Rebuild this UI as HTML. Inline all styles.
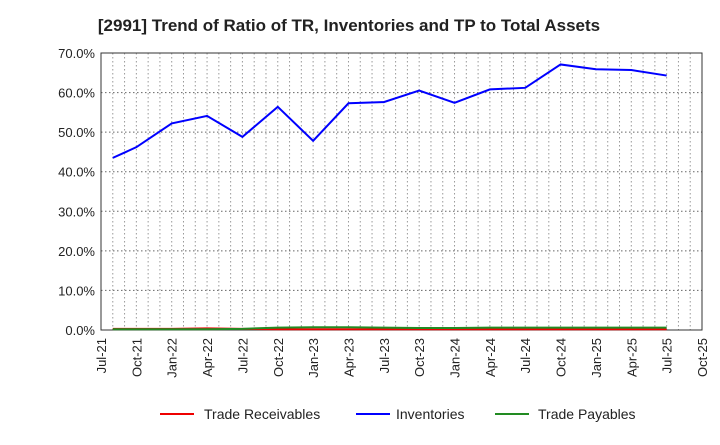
<!DOCTYPE html>
<html><head><meta charset="utf-8"><style>
body{margin:0;background:#fff;font-family:"Liberation Sans",Arial,sans-serif;}
</style></head><body>
<svg id="chart" width="720" height="440" xmlns="http://www.w3.org/2000/svg">
<text x="349" y="31" text-anchor="middle" font-size="17" font-weight="bold" fill="#222">[2991]  Trend of Ratio of TR, Inventories and TP to Total Assets</text>
<g id="grid"></g><g id="axes"></g><g id="series"></g>
<g>
<line x1="160" y1="414" x2="194" y2="414" stroke="#e00" stroke-width="2"/>
<text x="204" y="419" font-size="14" fill="#222">Trade Receivables</text>
<line x1="356" y1="414" x2="390" y2="414" stroke="#00f" stroke-width="2"/>
<text x="396" y="419" font-size="14" fill="#222">Inventories</text>
<line x1="495" y1="414" x2="529" y2="414" stroke="#228B22" stroke-width="2"/>
<text x="538" y="419" font-size="14" fill="#222">Trade Payables</text>
</g>
</svg>
<script>
const xLabels=["Jul-21","Oct-21","Jan-22","Apr-22","Jul-22","Oct-22","Jan-23","Apr-23","Jul-23","Oct-23","Jan-24","Apr-24","Jul-24","Oct-24","Jan-25","Apr-25","Jul-25","Oct-25"];
const yTicks=[0,10,20,30,40,50,60,70];
const months=[1,3,6,9,12,15,18,21,24,27,30,33,36,39,42,45,48];
const inventories=[43.5,46.2,52.2,54.1,48.8,56.4,47.8,57.3,57.6,60.5,57.4,60.8,61.2,67.1,65.9,65.7,64.3];
const receivables=[0.3,0.3,0.3,0.4,0.3,0.2,0.2,0.2,0.2,0.2,0.2,0.2,0.2,0.2,0.2,0.2,0.2];
const payables=[0.2,0.2,0.2,0.2,0.3,0.6,0.7,0.7,0.6,0.5,0.5,0.6,0.6,0.6,0.6,0.6,0.6];
const L=101,R=702,T=53,B=330;
const xs=m=>L+(R-L)*m/51;
const ys=v=>B-(B-T)*v/70;
const ns="http://www.w3.org/2000/svg";
function mk(tag,attrs,parent){const e=document.createElementNS(ns,tag);for(const k in attrs)e.setAttribute(k,attrs[k]);parent.appendChild(e);return e;}
const grid=document.getElementById('grid'),axes=document.getElementById('axes'),series=document.getElementById('series');
for(let m=1;m<51;m++){const l=mk('line',{x1:xs(m),x2:xs(m),y1:T,y2:B,stroke:'#999','stroke-dasharray':'1.5,2.5','stroke-width':1},grid);

}
yTicks.forEach(v=>{if(v>0&&v<70){const l=mk('line',{x1:L,x2:R,y1:ys(v),y2:ys(v),stroke:'#666','stroke-dasharray':'1.5,2.5','stroke-width':1},grid);

}
const t=mk('text',{x:L-6,y:ys(v)+5,'text-anchor':'end','font-size':13,fill:'#222'},axes);t.textContent=v.toFixed(1)+'%';

});
const frame=mk('rect',{x:L,y:T,width:R-L,height:B-T,fill:'none',stroke:'#333','stroke-width':1},axes);


xLabels.forEach((s,i)=>{const x=xs(i*3);const t=mk('text',{x:x+5,y:B+8,'text-anchor':'end','font-size':13,fill:'#222',transform:`rotate(-90 ${x+5} ${B+8})`},axes);t.textContent=s;

});
function line(vals,color,name){const p=mk('polyline',{points:vals.map((v,i)=>xs(months[i])+','+ys(v)).join(' '),fill:'none',stroke:color,'stroke-width':2},series);

}
line(receivables,'#e00','trade-receivables-line');
line(payables,'#228B22','trade-payables-line');
line(inventories,'#00f','inventories-line');
</script>
</body></html>
